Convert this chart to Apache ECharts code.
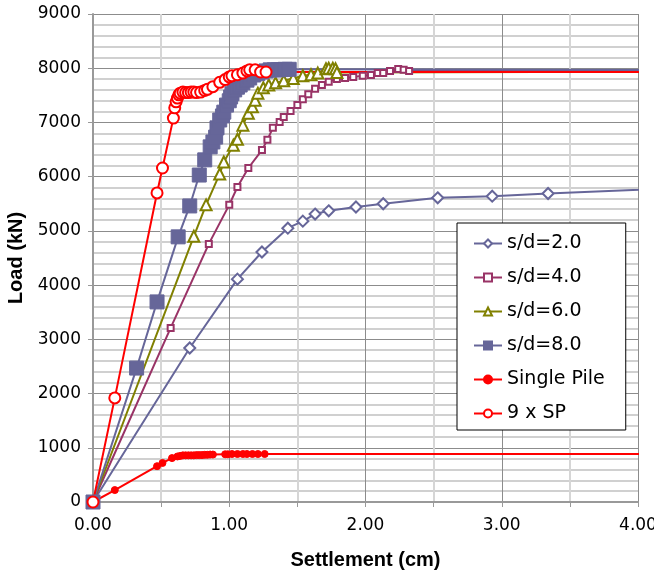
<!DOCTYPE html>
<html>
<head>
<meta charset="utf-8">
<script src="https://cdn.jsdelivr.net/npm/echarts@6/dist/echarts.min.js"></script>
<style>
  html, body { margin: 0; padding: 0; background: #fff; }
  #chart { width: 654px; height: 576px; }
</style>
</head>
<body>
<div id="chart"></div>
<script>
// settlement (cm) / load (kN)
var sd2X = [0, 0.71, 1.06, 1.24, 1.43, 1.54, 1.63, 1.73, 1.93, 2.13, 2.53, 2.93, 3.34, 4.4];
var sd2Y = [0, 2840, 4110, 4610, 5050, 5180, 5310, 5370, 5440, 5500, 5610, 5640, 5690, 5800];

var sd4X = [0, 0.57, 0.85, 1.0, 1.06, 1.14, 1.24, 1.28, 1.32, 1.37, 1.40, 1.45, 1.50, 1.54, 1.58, 1.63, 1.68, 1.73, 1.79, 1.85, 1.91, 1.98, 2.04, 2.09, 2.13, 2.18, 2.24, 2.28, 2.32, 6];
var sd4Y = [0, 3210, 4760, 5480, 5810, 6160, 6490, 6680, 6900, 7010, 7100, 7210, 7320, 7430, 7520, 7620, 7690, 7750, 7800, 7820, 7840, 7860, 7875, 7910, 7910, 7950, 7985, 7970, 7950, 7950];

var sd6X = [0, 0.74, 0.83, 0.93, 0.96, 1.03, 1.06, 1.10, 1.14, 1.17, 1.19, 1.21, 1.25, 1.29, 1.34, 1.40, 1.47, 1.54, 1.60, 1.65, 1.71, 1.73, 1.76, 1.78, 1.79, 6];
var sd6Y = [0, 4900, 5480, 6050, 6270, 6580, 6690, 6950, 7170, 7290, 7410, 7540, 7640, 7690, 7730, 7770, 7810, 7860, 7880, 7910, 7990, 8000, 8000, 7990, 7920, 7950];

var sd8X = [0, 0.32, 0.47, 0.625, 0.71, 0.78, 0.82, 0.86, 0.88, 0.90, 0.91, 0.93, 0.95, 0.96, 0.98, 1.00, 1.01, 1.02, 1.04, 1.06, 1.08, 1.10, 1.13, 1.15, 1.18, 1.21, 1.24, 1.27, 1.30, 1.33, 1.36, 1.38, 1.41, 1.44, 6];
var sd8Y = [0, 2470, 3690, 4890, 5460, 6030, 6310, 6550, 6640, 6730, 6900, 7045, 7120, 7190, 7320, 7400, 7470, 7530, 7600, 7650, 7690, 7730, 7780, 7820, 7875, 7900, 7930, 7950, 7970, 7970, 7970, 7975, 7980, 7980, 7960];

var spX = [0, 0.16, 0.47, 0.51, 0.58, 0.62, 0.64, 0.66, 0.68, 0.70, 0.72, 0.74, 0.76, 0.78, 0.80, 0.82, 0.84, 0.86, 0.88, 0.97, 0.99, 1.02, 1.06, 1.10, 1.13, 1.17, 1.21, 1.26, 6];
var spY = [0, 220, 660, 720, 810, 840, 850, 860, 860, 860, 860, 860, 865, 865, 865, 870, 870, 875, 875, 880, 880, 885, 885, 885, 885, 885, 885, 885, 885];

var sp9X = [0, 0.16, 0.47, 0.51, 0.59, 0.60, 0.61, 0.62, 0.63, 0.64, 0.66, 0.68, 0.70, 0.72, 0.74, 0.76, 0.79, 0.82, 0.84, 0.88, 0.93, 0.97, 1.00, 1.02, 1.06, 1.10, 1.13, 1.15, 1.19, 1.23, 1.27, 6];
var sp9Y = [0, 1920, 5700, 6160, 7080, 7270, 7380, 7450, 7510, 7540, 7560, 7550, 7550, 7560, 7560, 7550, 7560, 7590, 7610, 7660, 7740, 7790, 7840, 7860, 7880, 7910, 7950, 7970, 7970, 7930, 7930, 7930];

var seriesNames = ['s/d=2.0', 's/d=4.0', 's/d=6.0', 's/d=8.0', 'Single Pile', '9 x SP'];

function pairs(xs, ys) {
  return xs.map(function (x, i) { return [x, ys[i]]; });
}

function lineSeries(name, xs, ys, color, symbol, size, width) {
  return {
    name: name,
    type: 'line',
    data: pairs(xs, ys),
    symbol: symbol,
    symbolSize: size,
    showAllSymbol: true,
    clip: true,
    lineStyle: { color: color, width: width },
    itemStyle: { color: color, borderColor: color, borderWidth: 1 }
  };
}

var chart = echarts.init(document.getElementById('chart'));
var tickFont = 'DejaVu Sans';
var titleFont = "'Liberation Sans Narrow', 'Liberation Sans', Arial";

chart.setOption({
  animation: false,
  backgroundColor: '#fff',
  grid: { left: 93, right: 16, top: 14, bottom: 74, outerBoundsMode: 'none', containLabel: false },
  legend: {
    data: seriesNames,
    orient: 'vertical',
    left: 457,
    top: 223,
    padding: [11, 21, 7, 16],
    itemWidth: 28,
    itemHeight: 10,
    itemGap: 15,
    backgroundColor: '#fff',
    borderColor: '#000',
    borderWidth: 1,
    textStyle: { fontFamily: tickFont, fontSize: 19, color: '#000' }
  },
  xAxis: {
    type: 'value',
    min: 0,
    max: 4,
    interval: 1,
    name: 'Settlement (cm)',
    nameLocation: 'middle',
    nameGap: 48,
    nameTextStyle: { fontFamily: titleFont, fontWeight: 'bold', fontSize: 20, color: '#000' },
    axisLine: { show: true, lineStyle: { color: '#999', width: 2 } },
    axisTick: { show: true, length: 5, lineStyle: { color: '#999' } },
    minorTick: { show: true, splitNumber: 2, length: 5, lineStyle: { color: '#999' } },
    axisLabel: {
      fontFamily: tickFont, fontSize: 17, color: '#000', margin: 15,
      formatter: function (v) { return v.toFixed(2); }
    },
    splitLine: { show: true, lineStyle: { color: '#8c8c8c', width: 1 } },
    minorSplitLine: { show: true, lineStyle: { color: '#d6d6d6', width: 2 } }
  },
  yAxis: {
    type: 'value',
    min: 0,
    max: 9000,
    interval: 1000,
    name: 'Load (kN)',
    nameLocation: 'middle',
    nameGap: 56,
    nameTextStyle: { fontFamily: titleFont, fontWeight: 'bold', fontSize: 20, color: '#000' },
    axisLine: { show: true, lineStyle: { color: '#999', width: 2 } },
    axisTick: { show: true, length: 5, lineStyle: { color: '#999' } },
    minorTick: { show: false, splitNumber: 5 },
    axisLabel: {
      fontFamily: tickFont, fontSize: 17, color: '#000', margin: 12,
      formatter: function (v) { return String(v); }
    },
    splitLine: { show: true, lineStyle: { color: '#8c8c8c', width: 1 } },
    minorSplitLine: { show: true, lineStyle: { color: '#d0d0d0', width: 2 } }
  },
  series: [
    lineSeries(seriesNames[0], sd2X, sd2Y, '#666699', 'emptyDiamond', 11, 2),
    lineSeries(seriesNames[1], sd4X, sd4Y, '#993366', 'emptyRect', 6, 2),
    lineSeries(seriesNames[2], sd6X, sd6Y, '#808000', 'emptyTriangle', 11, 2),
    lineSeries(seriesNames[3], sd8X, sd8Y, '#666699', 'rect', 14, 2),
    lineSeries(seriesNames[4], spX, spY, '#ff0000', 'circle', 7, 2),
    lineSeries(seriesNames[5], sp9X, sp9Y, '#ff0000', 'emptyCircle', 11, 2)
  ]
});
</script>
</body>
</html>
